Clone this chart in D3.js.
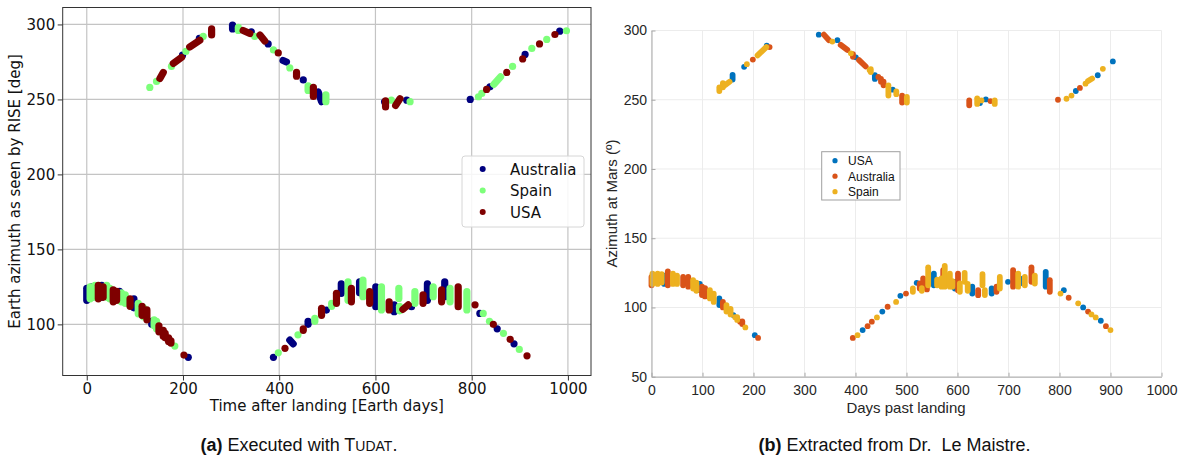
<!DOCTYPE html>
<html><head><meta charset="utf-8">
<script src="https://cdn.jsdelivr.net/npm/d3@7"></script>
<style>body{margin:0;background:#fff}svg{display:block}</style>
</head><body><svg id="c" width="1184" height="459"></svg>
<script>
// ---------- DATA ----------
// Entries: [day, az] point, [day, azLow, azHigh] vertical streak, [day1, az1, day2, az2] slanted streak
// Panel (a): executed with TUDAT
const tudatAustralia = [
  [199,279.5],[234,290.7],[303,297,299.5],[342,295],[377,287],[408,276,415,275],[450,263],[481,255,488,248.5],
  [619,248.4],[665,249.5],[797,250],[838,258.4],[911,280],[983,295.5],
  [0,116,124],[10,118,125],[31,118,126],[68,122],[98,111,117],[135,100,102],[211,78],[388,78],[422,89.5,429,87],[460,100,102],
  [498,109.5],[529,120.7,127],[567,121,128.4],[600.7,111.8,125],[639,108.4,113],[675,111.8],[708,116,127],
  [744,118.4,128.4],[817,107.3],[853,97],[888,87]
];
const tudatSpain = [
  [131,258],[145,262],[176,272],[206,282],[242,292],[315,296,298],[349,292],[388,283],[422,271],[460,256,259],
  [497,248.5,253],[633,249.5],[672,248.5],[814,251.8],[821,254],[846,260,860,265],[885,272],[925,284],[956,290],[997,295.8],
  [7,117,125],[17,118,126],[41.5,118,126],[48,117,124],[72,115,121],[80,114,119.6],[107,107,114],[118,105,111],[140,99,103],
  [145,97,102],[183,85.5],[398,81],[439,93],[474,102,104],
  [509,112,114],[543,116,128.4],[574,118.4,129.6],[612.5,109.6,125],[648.6,117.3,124],[650,109,112],[682,114,121.8],
  [720,118.4,125],[755,115,124],[790,109.6,121.8],[824,107.3],[837,102],[866,94],[899,83.3]
];
const tudatUSA = [
  [152,264,159,268],[180,274,197,278],[214,285,235,289.5],[259.5,293,297],[325,296,339,294],[360,293,370,289],
  [398,281],[436,265.5,268],[471,252,258],[621,245,249],[642,246,651,250.5],[831,256.7],[873,268],[906,277],[941,287],[973,293.3],
  [24,117,126],[34,118,125],[55,115,123],[62,116,122],[90,112,117],[115,106,112],[125,103,109.6],[150,95,99],[159,92,96],
  [163,91,94],[170,88.5,91],[175,87.5,89],[202,79.5],[412,84],[450,96,97],
  [488,106,110.7],[519,114,120.7],[550,115,124],[588,114,121.8],[628.5,109.6,115],[657,110,668,113],[699,114,119.6],
  [737.5,115,123],[772,111.8,125],[807,113],[845,100],[880,90],[915,79]
];
// Panel (b): extracted from Dr. Le Maistre
const lmUSA = [
  [159,264.6,268],[181.6,273.8],[226,289],[328,297],[364.5,293],[400.7,280.6],[438,265,267.7],[473,257.3],
  [644,247.6],[655.6,250.2],[832,256.3],[875,267.7],[904.6,277.7],
  [25,117,123],[94.7,112.5,117],[133,101.7,106.5],[160.5,94.5],[202.6,80],[414,83.7],[452.6,97],[488,108.4],[520,117.8],
  [553.6,116,124.5],[594.8,113.7,118.5],[629,110,115],[667,110,113.7],[699,118.5],[722,117.3,121],[773,115,125.7],
  [808.5,112.5],[846.4,100],[881,90.4]
];
const lmAustralia = [
  [198.7,279],[231.6,288],[338,297,348,293],[371,289.6,384,286],[395,281,283],[407,278.6,420,274],[444.7,266.5],[450,263,265],
  [455,260.4,263],[491.4,248,253],[623,246,249.5],[664.7,249],[797,250],[840,258.5],
  [0,116,122],[32,116,126],[62,116,122],[72,115,122],[99,109,115],[105,108,114],[140,100,104],[173.7,89.7],[178,88,90],[209,78],
  [394.7,78],[423.7,86.5],[432,89.7],
  [463,100.5],[499,110],[526,113.7,117.3],[532.7,115,121],[540,113,117],[572,116,127],[601,112.5,124.5],[640.5,108.9,112.5],
  [676.5,111.3,115],[709,115,127],[745,118.5,129],[781,111.3,119.7],[818,107],[856,97],[891,86.5]
];
const lmSpain = [
  [133,256.3,259],[140,259,262],[144,260.4,153,263],[187,275.7],[208,282,225,288],[354.6,292],[391,283.5],[427.6,271.4],
  [430,270,272],[464.5,253,260.4],[480,254,256],[500.7,248,252],[638.6,247,251],[647,249.5],[673,247,249.5],[813.7,250.7],[823.5,253],
  [851,261.6],[856,263.6,864,265.3],[885,272.3],
  [2,117,124.5],[12,117,124.5],[20,118,124],[42,117,124.5],[50,117,123],[81.6,113.7,119.7],[88,112,118],[114.5,106.5,112.5],
  [122,104,110],[147,97,101.7],[155,95,99],[164,93],[168,91,93],
  [184,85.6],[404,80],[442,92.8],[479.6,104],[512.5,111.3,113.7],[530,112,114],[542.5,116,129],[560,116,120],[568.6,115,121],[575,115,130],
  [585,115,124.5],[590,115,119],[604.6,111.3,117.3],[614,118.5,125],[620,112,117],[649,116,124],[653.6,109,112.5],[683,113.7,122],[719,115,124.5],
  [732,116,122],[751.6,117.3,123],[802,110],[836.6,103],[862.7,95],[871,92.8],[900,83.7]
];
const xTicksA = [0,200,400,600,800,1000];
const yTicksA = [100,150,200,250,300];
const xTicksB = [0,100,200,300,400,500,600,700,800,900,1000];
const yTicksB = [50,100,150,200,250,300];
const seriesA = [
  {name:"Australia", data:tudatAustralia, color:"#00007f"},
  {name:"Spain", data:tudatSpain, color:"#7dff7a"},
  {name:"USA", data:tudatUSA, color:"#7f0000"}
];
const seriesB = [
  {name:"USA", data:lmUSA, color:"#0072BD"},
  {name:"Australia", data:lmAustralia, color:"#D95319"},
  {name:"Spain", data:lmSpain, color:"#EDB120"}
];

// ---------- DRAW ----------
const svg = d3.select("#c");
const fmt = d3.format("d");

function seg(e){
  if (e.length===2) return [e[0],e[1],e[0],e[1]];
  if (e.length===3) return [e[0],e[1],e[0],e[2]];
  return e;
}
function drawMarks(g, x, y, data, color, w){
  const s = data.map(seg);
  g.selectAll(null).data(s.filter(d=>d[0]===d[2]&&d[1]===d[3])).join("circle")
    .attr("cx",d=>x(d[0])).attr("cy",d=>y(d[1])).attr("r",w/2).attr("fill",color);
  g.selectAll(null).data(s.filter(d=>!(d[0]===d[2]&&d[1]===d[3]))).join("line")
    .attr("x1",d=>x(d[0])).attr("y1",d=>y(d[1])).attr("x2",d=>x(d[2])).attr("y2",d=>y(d[3]))
    .attr("stroke",color).attr("stroke-width",w).attr("stroke-linecap","round");
}

// ===== Panel (a) =====
(function(){
  const L=62.7, R=591, T=7.5, B=375.5;
  const x = d3.scaleLinear().domain([-50,1048]).range([L,R]);
  const y = d3.scaleLinear().domain([65.9,311.3]).range([B,T]);
  const g = svg.append("g");
  const font = "'DejaVu Sans', sans-serif";
  g.append("g").selectAll("line").data(xTicksA).join("line")
    .attr("x1",d=>x(d)).attr("x2",d=>x(d)).attr("y1",T).attr("y2",B).attr("stroke","#c4c4c4").attr("stroke-width",1.2);
  g.append("g").selectAll("line").data(yTicksA).join("line")
    .attr("y1",d=>y(d)).attr("y2",d=>y(d)).attr("x1",L).attr("x2",R).attr("stroke","#c4c4c4").attr("stroke-width",1.2);
  seriesA.forEach(s=>drawMarks(g.append("g"), x, y, s.data, s.color, 7.2));
  const ax = g.append("g").attr("transform",`translate(0,${B})`)
    .call(d3.axisBottom(x).tickValues(xTicksA).tickFormat(fmt).tickSize(5).tickPadding(2.5));
  const ay = g.append("g").attr("transform",`translate(${L},0)`)
    .call(d3.axisLeft(y).tickValues(yTicksA).tickFormat(fmt).tickSize(5).tickPadding(2.5));
  [ax,ay].forEach(a=>{
    a.select(".domain").remove();
    a.selectAll("line").attr("stroke","#333");
    a.selectAll("text").attr("font-family",font).attr("font-size",15).attr("fill","#111");
  });
  g.append("rect").attr("x",L).attr("y",T).attr("width",R-L).attr("height",B-T)
    .attr("fill","none").attr("stroke","#333").attr("stroke-width",1);
  g.append("text").attr("x",(x(-50)+x(1048))/2).attr("y",411).attr("text-anchor","middle")
    .attr("font-family",font).attr("font-size",15).attr("fill","#111").text("Time after landing [Earth days]");
  g.append("text").attr("transform",`translate(19.5,${(T+B)/2}) rotate(-90)`).attr("text-anchor","middle")
    .attr("font-family",font).attr("font-size",15).attr("fill","#111").text("Earth azimuth as seen by RISE [deg]");
  const lg = g.append("g");
  lg.append("rect").attr("x",462).attr("y",156).attr("width",122).attr("height",71).attr("rx",3)
    .attr("fill","rgba(255,255,255,0.85)").attr("stroke","#d6d6d6");
  seriesA.forEach((s,i)=>{
    const cy = 169 + i*21.5;
    lg.append("circle").attr("cx",482.7).attr("cy",cy).attr("r",3).attr("fill",s.color);
    lg.append("text").attr("x",510).attr("y",cy+5.5).attr("font-family",font).attr("font-size",15)
      .attr("fill","#111").text(s.name);
  });
})();

// ===== Panel (b) =====
(function(){
  const L=651.5, R=1161.5, T=30.5, B=376.7;
  const x = d3.scaleLinear().domain([0,1000]).range([L,R]);
  const y = d3.scaleLinear().domain([50,300]).range([B,T]);
  const g = svg.append("g");
  const font = "'Liberation Sans', Arial, sans-serif";
  g.append("g").selectAll("line").data(xTicksB).join("line")
    .attr("x1",d=>x(d)).attr("x2",d=>x(d)).attr("y1",T).attr("y2",B).attr("stroke","#ececec").attr("stroke-width",1);
  g.append("g").selectAll("line").data(yTicksB).join("line")
    .attr("y1",d=>y(d)).attr("y2",d=>y(d)).attr("x1",L).attr("x2",R).attr("stroke","#ececec").attr("stroke-width",1);
  seriesB.forEach(s=>drawMarks(g.append("g"), x, y, s.data, s.color, 5.8));
  const ax = g.append("g").attr("transform",`translate(0,${B})`)
    .call(d3.axisBottom(x).tickValues(xTicksB).tickFormat(fmt).tickSizeInner(-4).tickSizeOuter(0).tickPadding(8));
  const ay = g.append("g").attr("transform",`translate(${L},0)`)
    .call(d3.axisLeft(y).tickValues(yTicksB).tickFormat(fmt).tickSizeInner(-4).tickSizeOuter(0).tickPadding(4.5));
  [ax,ay].forEach(a=>{
    a.select(".domain").attr("stroke","#a8a8a8");
    a.selectAll(".tick line").attr("stroke","#a8a8a8");
    a.selectAll("text").attr("font-family",font).attr("font-size",14).attr("fill","#262626");
  });
  g.append("text").attr("x",906).attr("y",412.5).attr("text-anchor","middle")
    .attr("font-family",font).attr("font-size",15).attr("fill","#262626").text("Days past landing");
  g.append("text").attr("transform",`translate(617,${(T+B)/2}) rotate(-90)`).attr("text-anchor","middle")
    .attr("font-family",font).attr("font-size",15).attr("fill","#262626").text("Azimuth at Mars (º)");
  const lg = g.append("g");
  lg.append("rect").attr("x",821.7).attr("y",151.7).attr("width",78.3).attr("height",48.3)
    .attr("fill","#fff").attr("stroke","#a0a0a0");
  seriesB.forEach((s,i)=>{
    const cy = 160.7 + i*15.5;
    lg.append("circle").attr("cx",835).attr("cy",cy).attr("r",2.6).attr("fill",s.color);
    lg.append("text").attr("x",848).attr("y",cy+4.3).attr("font-family",font).attr("font-size",12)
      .attr("fill","#111").text(s.name);
  });
})();

// ===== Captions =====
const capFont = "'Liberation Sans', Arial, sans-serif";
const capA = svg.append("text").attr("x",299).attr("y",451).attr("text-anchor","middle")
  .attr("font-family",capFont).attr("font-size",18).attr("fill","#111");
capA.append("tspan").attr("font-weight","bold").text("(a)");
capA.append("tspan").text(" Executed with T");
capA.append("tspan").attr("font-size",14).text("UDAT");
capA.append("tspan").text(".");
const capB = svg.append("text").attr("x",894.5).attr("y",451).attr("text-anchor","middle")
  .attr("font-family",capFont).attr("font-size",18).attr("fill","#111");
capB.append("tspan").attr("font-weight","bold").text("(b)");
capB.append("tspan").text(" Extracted from Dr.\u00a0 Le Maistre.");
</script></body></html>
